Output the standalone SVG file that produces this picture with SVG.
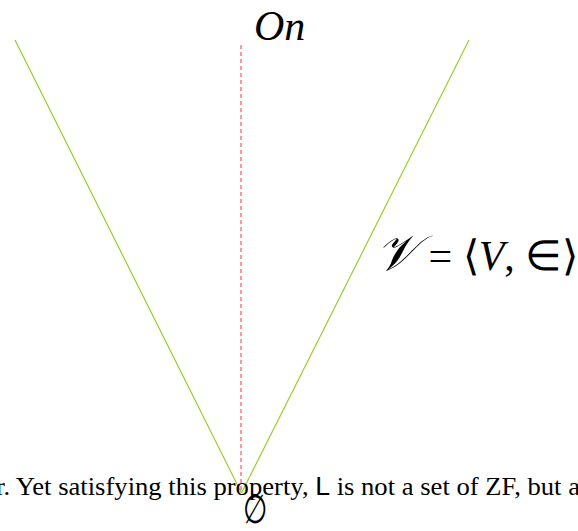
<svg xmlns="http://www.w3.org/2000/svg" width="578" height="531" viewBox="0 0 578 531">
<style>
.g{stroke:#9acd32;stroke-width:1.2;fill:none}
.r{stroke:#ff3333;stroke-width:1;stroke-dasharray:4 3;fill:none}
.t{font-family:"Liberation Serif","Times New Roman",serif;fill:#000}
.i{font-style:italic}
</style>
<rect width="578" height="531" fill="#fff"/>
<g id="connectors">
<line class="g" x1="15" y1="40" x2="241.5" y2="493"/>
<line class="g" x1="469" y1="40" x2="241.5" y2="493"/>
<line class="r" x1="241" y1="45" x2="241" y2="492"/>
</g>
<g id="top"><text class="t i" x="254" y="40" font-size="42">On</text></g>
<g id="universe"><text class="t" x="376" y="270" font-size="42"><tspan class="i" font-family="DejaVu Serif" font-size="50">𝒱</tspan> = ⟨<tspan class="i">V</tspan>, ∈⟩</text></g>
<g id="caption"><text class="t" x="-4" y="495" font-size="26" textLength="584" lengthAdjust="spacingAndGlyphs">r.  Yet satisfying this property, <tspan font-family="Liberation Sans">L</tspan> is not a set of ZF, but a</text></g>
<g id="bottom"><text class="t" transform="translate(243 523) scale(0.7 1)" font-size="40">∅</text></g>
</svg>
